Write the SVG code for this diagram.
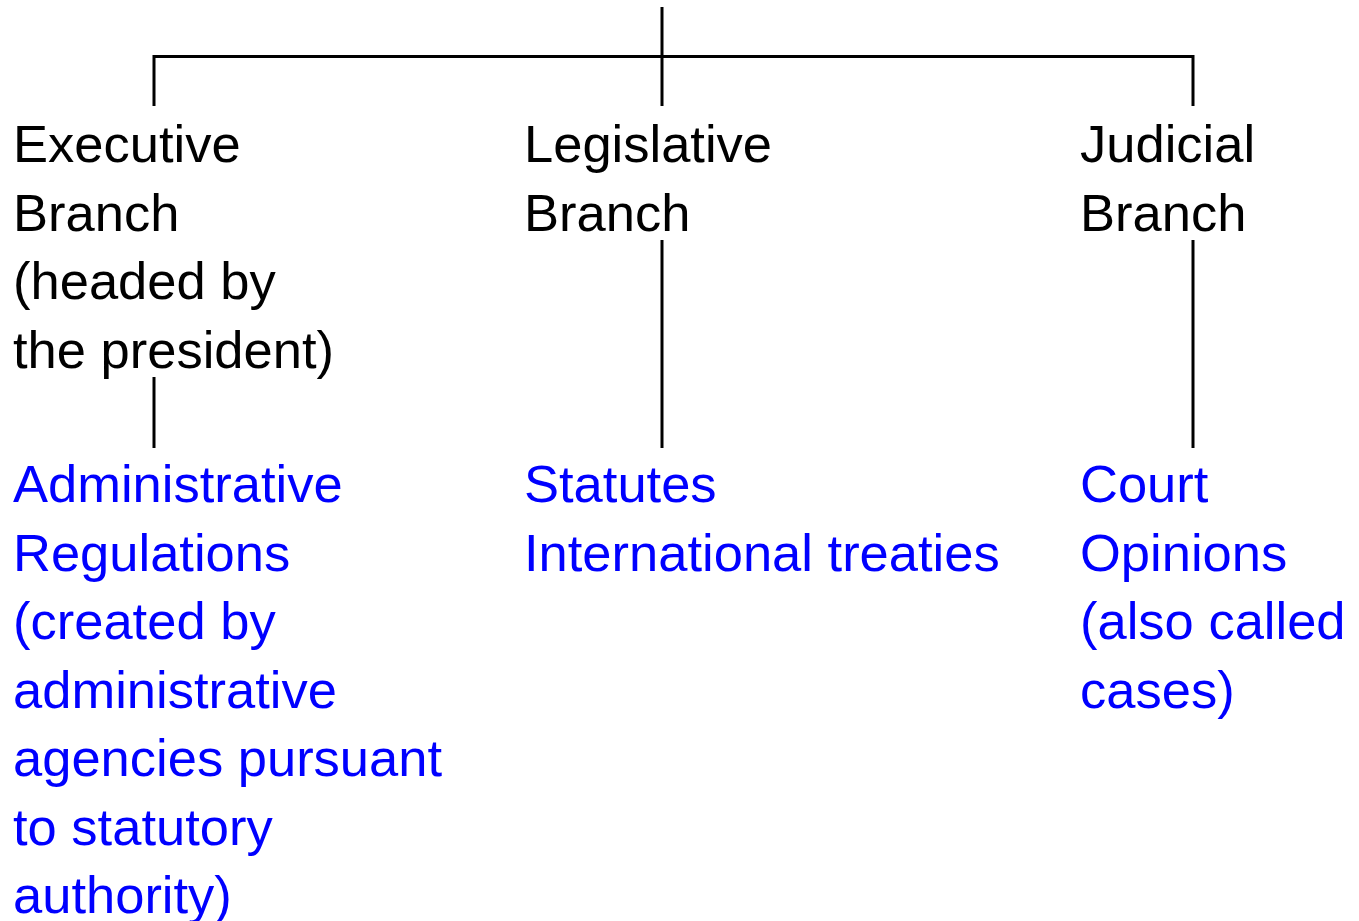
<svg xmlns="http://www.w3.org/2000/svg" width="1359" height="921" viewBox="0 0 1359 921">
<style>
.t{font-family:"Liberation Sans",Arial,sans-serif;font-size:52.5px}
.k{fill:#000}
.b{fill:#0000ff}
.c{stroke:#000;stroke-width:3;fill:none}
</style>
<rect width="1359" height="921" fill="#fff"/>
<g id="connectors">
<line class="c" x1="662" y1="7" x2="662" y2="106"/>
<polyline class="c" points="154,106 154,56.5 1193,56.5 1193,106"/>
<line class="c" x1="154" y1="377" x2="154" y2="448"/>
<line class="c" x1="662" y1="240" x2="662" y2="448"/>
<line class="c" x1="1193" y1="240" x2="1193" y2="448"/>
</g>
<g id="executive">
<text class="t k"><tspan x="13" y="162">Executive</tspan><tspan x="13" y="230.5">Branch</tspan><tspan x="13" y="299">(headed by</tspan><tspan x="13" y="367.5">the president)</tspan></text>
</g>
<g id="legislative">
<text class="t k"><tspan x="524" y="162">Legislative</tspan><tspan x="524" y="230.5">Branch</tspan></text>
</g>
<g id="judicial">
<text class="t k"><tspan x="1080" y="162">Judicial</tspan><tspan x="1080" y="230.5">Branch</tspan></text>
</g>
<g id="regulations">
<text class="t b"><tspan x="13" y="502">Administrative</tspan><tspan x="13" y="570.5">Regulations</tspan><tspan x="13" y="639">(created by</tspan><tspan x="13" y="707.5">administrative</tspan><tspan x="13" y="776">agencies pursuant</tspan><tspan x="13" y="844.5">to statutory</tspan><tspan x="13" y="913">authority)</tspan></text>
</g>
<g id="statutes">
<text class="t b"><tspan x="524" y="502">Statutes</tspan><tspan x="524" y="570.5">International treaties</tspan></text>
</g>
<g id="opinions">
<text class="t b"><tspan x="1080" y="502">Court</tspan><tspan x="1080" y="570.5">Opinions</tspan><tspan x="1080" y="639">(also called</tspan><tspan x="1080" y="707.5">cases)</tspan></text>
</g>
</svg>
